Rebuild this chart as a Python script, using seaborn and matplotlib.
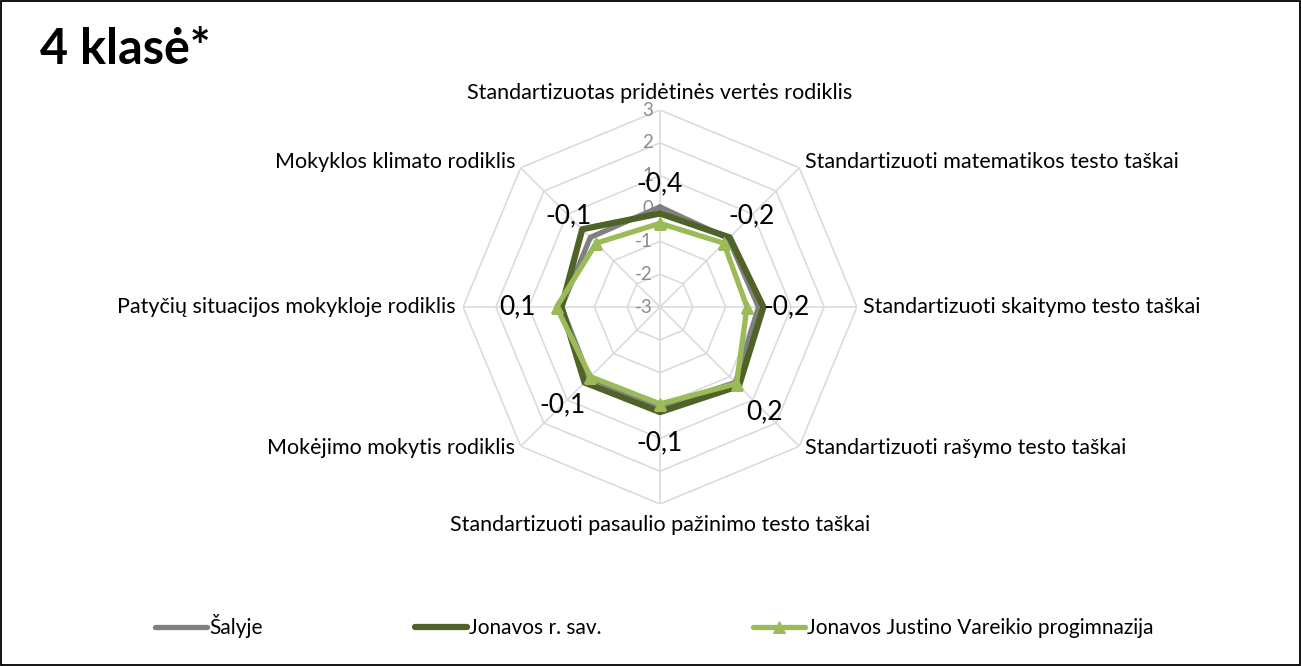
import numpy as np
import pandas as pd
import seaborn as sns
import matplotlib.pyplot as plt
from matplotlib.patches import Rectangle

categories = [
    "Standartizuotas pridėtinės vertės rodiklis",
    "Standartizuoti matematikos testo taškai",
    "Standartizuoti skaitymo testo taškai",
    "Standartizuoti rašymo testo taškai",
    "Standartizuoti pasaulio pažinimo testo taškai",
    "Mokėjimo mokytis rodiklis",
    "Patyčių situacijos mokykloje rodiklis",
    "Mokyklos klimato rodiklis",
]
salyje = [0.05, -0.05, 0.0, 0.25, 0.05, 0.05, 0.0, 0.0]
savivaldybe = [-0.15, 0.0, 0.15, 0.4, 0.2, 0.25, 0.0, 0.35]
mokykla = [-0.45, -0.25, -0.35, 0.3, -0.05, 0.0, 0.15, -0.25]
mokykla_labels = ["-0,4", "-0,2", "-0,2", "0,2", "-0,1", "-0,1", "0,1", "-0,1"]
ticks = [-3, -2, -1, 0, 1, 2, 3]
series_names = ["Šalyje", "Jonavos r. sav.", "Jonavos Justino Vareikio progimnazija"]

sns.set_style("white")
plt.rcParams['font.family'] = ['Lato', 'DejaVu Sans']
plt.rcParams['text.color'] = 'black'

n = len(categories)
angles = np.linspace(0, 2 * np.pi, n, endpoint=False)
closed = np.append(angles, 2 * np.pi)

fig = plt.figure(figsize=(13.01, 6.66), dpi=100)
ax = fig.add_axes([0.3559, 0.2432, 0.3028, 0.5916], projection='polar')
ax.set_theta_offset(np.pi / 2)
ax.set_theta_direction(-1)

# octagon grid
for r in ticks:
    ax.plot(closed, [r] * (n + 1), color='#d9d9d9', lw=1.1, zorder=1)
for a in angles:
    ax.plot([a, a], [ticks[0], ticks[-1]], color='#d9d9d9', lw=1.1, zorder=1)

styles = [
    dict(color='#808080', lw=3.8),
    dict(color='#4f6228', lw=4.5),
    dict(color='#9bbb59', lw=3.8, marker='^', markersize=9, markeredgecolor='#9bbb59'),
]
for i, (name, vals) in enumerate(zip(series_names, [salyje, savivaldybe, mokykla])):
    df = pd.DataFrame({'theta': closed, 'value': list(vals) + [vals[0]]})
    st = dict(styles[i])
    lw = st.pop('lw')
    sns.lineplot(data=df, x='theta', y='value', sort=False, estimator=None, ax=ax,
                 linewidth=lw, label=name, zorder=3 + i, **st)

# data labels of school
for a, v, lab in zip(angles, mokykla, mokykla_labels):
    ax.text(a, v + 1.2, lab, ha='center', va='center', fontsize=19, color='black', zorder=10)

# radial tick labels
for r in ticks:
    ax.annotate(str(r), xy=(0, r), xytext=(-5, 0), textcoords='offset points',
                ha='right', va='center', fontsize=13.5, color='#8c8c8c', zorder=2)

# category labels
offsets = [((0, 5), 'center', 'bottom'), ((4, 4), 'left', 'center'),
           ((4, 0), 'left', 'center'), ((4, -1), 'left', 'center'),
           ((0, -8), 'center', 'top'), ((-4, -1), 'right', 'center'),
           ((-5, 0), 'right', 'center'), ((-4, 4), 'right', 'center')]
for a, cat, (off, ha, va) in zip(angles, categories, offsets):
    ax.annotate(cat, xy=(a, ticks[-1]), xytext=off, textcoords='offset points',
                ha=ha, va=va, fontsize=15.5, color='black', annotation_clip=False)

ax.set_ylim(ticks[0], ticks[-1])
ax.set_xticks([])
ax.set_yticks([])
ax.grid(False)
ax.spines['polar'].set_visible(False)
ax.set_xlabel('')
ax.set_ylabel('')

handles, labels = ax.get_legend_handles_labels()
ax.get_legend().remove()
fig.legend(handles, labels, loc='center', bbox_to_anchor=(0.503, 0.06), ncol=3,
           frameon=False, fontsize=15, handlelength=2.5, handletextpad=0.1,
           columnspacing=7.3, labelcolor='black')

fig.text(0.031, 0.926, "4 klasė*", fontsize=35, fontweight='bold', va='center', ha='left',
         color='black')
fig.patches.append(Rectangle((0.0008, 0.0015), 0.9984, 0.997, transform=fig.transFigure,
                             fill=False, edgecolor='black', lw=1.3))

fig.savefig('out.png', dpi=100)
